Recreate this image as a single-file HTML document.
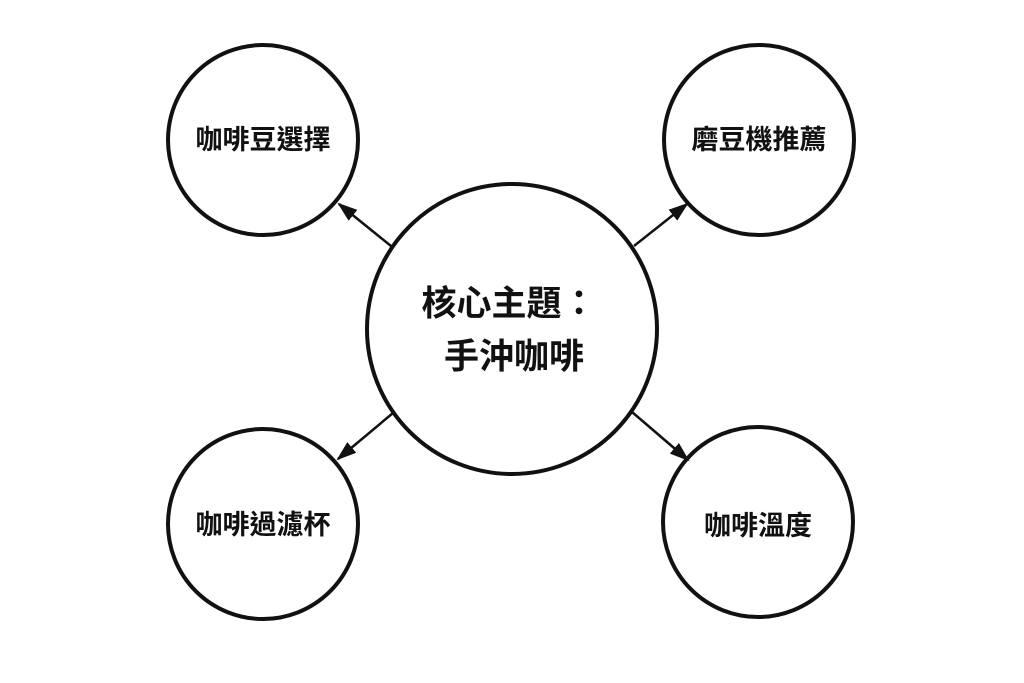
<!DOCTYPE html>
<html><head><meta charset="utf-8"><style>
html,body{margin:0;padding:0;background:#fff;}
svg{display:block}
text{font-family:"Liberation Sans","Noto Sans CJK TC",sans-serif;font-weight:bold;fill:#111;text-anchor:middle;dominant-baseline:central}
</style></head><body>
<svg width="1024" height="683" viewBox="0 0 1024 683">
<defs><marker id="a" markerWidth="10" markerHeight="8" refX="9" refY="4" orient="auto" markerUnits="userSpaceOnUse">
<path d="M0,0 L10,4 L0,8 Z" fill="#111"/></marker>
<marker id="b" markerWidth="20" markerHeight="14" refX="18" refY="7" orient="auto" markerUnits="userSpaceOnUse"><path d="M0,0 L20,7 L0,14 Z" fill="#111"/></marker></defs>
<g fill="#fff" stroke="#111" stroke-width="4">
<circle cx="512" cy="329" r="145"/>
<circle cx="263" cy="140" r="95"/>
<circle cx="759" cy="140" r="95"/>
<circle cx="263" cy="524" r="95"/>
<circle cx="758" cy="522" r="95"/>
</g>
<g stroke="#111" stroke-width="2.5" marker-end="url(#b)">
<line x1="391" y1="246" x2="339" y2="204"/>
<line x1="634" y1="246" x2="687" y2="204"/>
<line x1="393" y1="413" x2="338" y2="459"/>
<line x1="632" y1="412" x2="688" y2="460"/>
</g>
<text x="509" y="304" font-size="35">核心主題：</text>
<text x="514" y="357" font-size="35">手沖咖啡</text>
<text x="263" y="140" font-size="27">咖啡豆選擇</text>
<text x="759" y="140" font-size="27">磨豆機推薦</text>
<text x="263" y="525" font-size="27">咖啡過濾杯</text>
<text x="758" y="526" font-size="27">咖啡溫度</text>
</svg>
</body></html>
